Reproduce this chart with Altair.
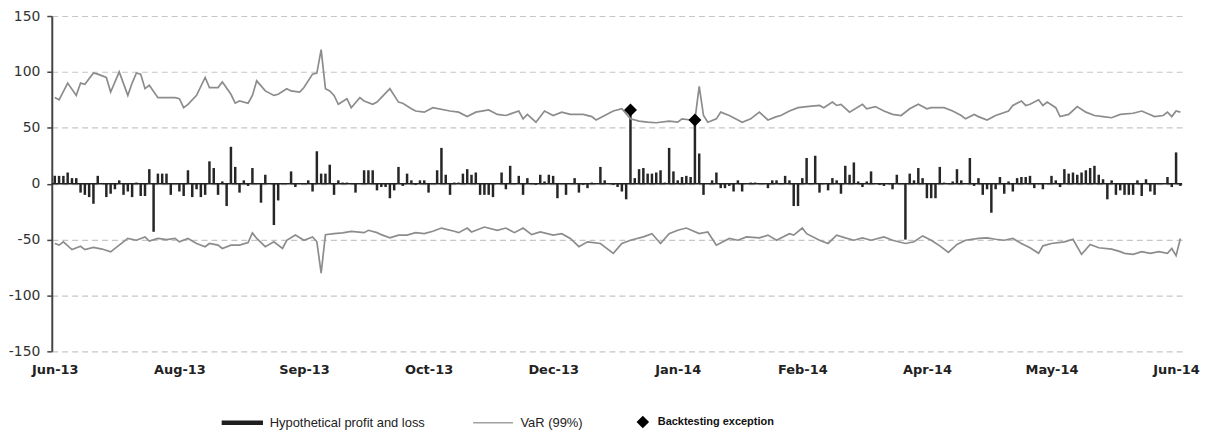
import json
import altair as alt
import pandas as pd

# ---------------- data ----------------
pnl = [
    7, 7, 7, 10, 5, 5, -8, -10, -12, -18, 7, 0.5, -12, -9, -5, 3, -10, -7, -12, 1, -11, -11, 13,
    -43,
    9, 9, 9, -10, 0.5, -7, -11, 12, -12, -5, -12, -10, 20, 14, -10, 2, -20,
    33,
    15, -8, 3, -2, 14, 0.5, -17, 8, 0.5, -37, -15, 0.5, 0.5, 11, -3, 0.5, 0.5, 3, -7,
    29,
    9, 9, 17, -10, 3, 1, 1, 0.5, -8, 0.5, 12, 12, 12, -6, -3, -3, -13, -6, 15, -2, 9, 3, -1, 3, 3,
    -8, 0.5, 12, 32, 8, -10, 1, 1, 9, 13, 8, 10, -10, -10, -10, -12, 0.5, 10, -5, 16,
    0.5, 7, -10, 5, 0.5, -1, 8, 2, 8, 7, -13, 0.5, -10, 0.5, 5, -8, -1, -4, 1, 0.5,
    15, 3, 0.5, -1, -3, -7, -14,
    66,
    5, 13, 14, 9, 9, 10, 12, 1, 32, 11, 3, 6, 7, 6,
    57,
    27, -10, 0.5, 3, 10, -4, -4, -2, -7, 3, -7, 0.5, 1, 1, 0.5, 0.5, -4, 3, 3, 0.5, 7, 3, -20, -20,
    5, 23, 0.5, 25, -8, 0.5, -6, 5, 3, -9, 16, 8, 19, 2, -3, 2, 11, 0.5, -1, -2, 0.5, -5, 8, 0.5,
    -50,
    9, 3, 14, 5, -13, -13, -13, 15, 1, 0.5, 2, 13, 3, 0.5, 23, -2, 5, -10, -5, -26,
    -5, 6, -9, 2, -7, 5, 6, 6, 7, -4, 0.5, -5, 0.5, 7, 3, -3,
    13, 9, 10, 8, 10, 12, 14, 16, 8, 4, -14, 3, -10, -6, -10, -10, -10, 3, -11, 4,
    -7, -10, 0.5, 0.5, 6, -3, 28, -2,
]
pnl_days = list(range(len(pnl)))

var_up_days = [0, 1, 3, 5, 6, 7, 9, 10, 12, 13, 15, 17, 18, 19, 20, 21, 22, 24, 26, 28, 29, 30, 31, 33, 35,
               36, 38, 39, 41, 42, 43, 45, 46, 47, 49, 51, 52, 54, 55, 57, 58, 60, 61, 62, 63, 64, 65, 66,
               68, 69, 71, 72, 74, 75, 76, 78, 80, 81, 83, 84, 86,
               88, 92, 94, 96, 98, 101, 103, 105, 108, 109, 110, 112, 114, 116, 118, 120, 123, 125, 126,
               128, 130, 132, 134, 136, 138, 140, 143, 145, 146, 148, 149, 150, 151, 152, 154, 155, 157,
               159, 160, 162, 164, 166, 168, 169, 171, 173,
               175, 178, 179, 181, 182, 183, 185, 188, 189, 191, 193, 195, 197, 199, 201, 203, 204, 207,
               209, 211, 212, 214, 215, 217, 219, 222, 223, 225, 226, 227, 229, 230, 231, 233, 234, 236,
               238, 240, 242, 244, 246, 248, 251, 253, 256, 258, 259, 260, 261, 262]
var_up = [77, 75, 90, 79, 90, 89, 99, 98, 95, 82, 100, 79, 90, 99, 98, 85, 88, 77, 77, 77, 76, 68, 71, 79, 95,
          86, 86, 91, 80, 72, 74, 72, 79, 92, 83, 79, 80, 85, 83, 82, 86, 98, 99, 120, 85, 83, 79, 71,
          76, 68, 77, 74, 71, 73, 77, 85, 73, 72, 67, 65, 64,
          68, 65, 64, 60, 64, 66, 62, 61, 65, 58, 62, 55, 65, 61, 64, 62, 62, 60, 57,
          61, 65, 67, 58, 56, 55, 54.5, 56, 55, 58, 57, 57, 87, 61, 55, 58, 64, 61,
          57, 55, 58, 64, 57, 60, 61, 65, 68,
          69, 70, 68, 73, 70, 71, 64, 71, 67, 69, 65, 62, 61, 67, 71, 67, 68, 68,
          65, 61, 58, 62, 60, 57, 61, 65, 70, 74, 70, 71, 75, 70, 73, 68, 60, 62,
          69, 64, 61, 60, 59, 62, 63, 65, 60, 61, 64, 60, 65, 64]

var_lo_days = [0, 1, 2, 4, 6, 7, 9, 11, 13, 15, 17, 19, 21, 22, 24, 26, 28, 29, 31, 33, 35, 36, 38, 39, 41,
               43, 45, 46, 47, 49, 51, 53, 54, 56, 58, 60, 61, 62, 63, 65, 67, 69, 72, 73, 75, 76, 78, 80,
               82, 84, 86,
               88, 90, 93, 94, 96, 97, 100, 103, 105, 107, 109, 111, 113, 116, 118, 120, 122, 124, 127,
               130, 132, 134, 137, 139, 141, 143, 145, 147, 150, 152, 154, 157, 159, 161, 164, 166, 168,
               171, 172, 174,
               175, 178, 180, 182, 184, 186, 188, 190, 193, 195, 198, 200, 202, 204, 206, 208, 210, 212,
               215, 217, 219, 221, 223, 225, 227, 229, 230, 232, 235, 237, 239, 241, 243, 246, 248, 249,
               251, 253, 255, 257, 259, 260, 261, 262]
var_lo = [-53.5, -55, -52, -59, -56, -59, -57, -58.5, -61, -55, -49, -50.6, -47.6, -51.4, -49, -50, -49, -52,
          -49, -53.5, -56.4, -53.5, -55, -58, -55,
          -55, -52.6, -44, -49, -56.4, -52, -58, -50.6, -46, -50.6, -47.6, -52, -80, -45.6, -44.7, -44,
          -42.6, -43.8, -41.7, -43.8, -45.6, -48.5, -46,
          -46, -43.8, -44.7,
          -42.6, -39.7, -42.6, -43.8, -39.7, -43.2, -38.8, -41.7, -39.7, -43.8, -39.7, -45.6, -43.2, -46,
          -44.7, -49, -56.4, -52, -53.5,
          -62.3, -53.5, -50.6, -47.6, -44.7, -53.5, -44.7, -41.7, -39.7, -44.7, -43.2, -55, -49, -50.6,
          -47.6, -48.5, -46, -50.6,
          -44.7, -46, -39.7,
          -44.7, -50.6, -53.5, -46, -48.5, -50.6, -48.5, -50.6, -47.6, -50.6, -53.5, -52, -46.7, -50.6,
          -55.6, -61.4, -54.4, -50.6,
          -49, -48.5, -49.7, -50.6, -49, -53.5, -57.3, -62.3, -55.6, -53.5, -52, -49.7, -63.2, -54.4,
          -57.3, -58.5, -60.8, -62.3,
          -63.2, -60.8, -62.3, -60.8, -62.3, -58, -64.4, -49]

exc_days = [134, 149]
exc_vals = [66, 57]

tick_days = [0, 29, 58, 87, 116, 145, 174, 203, 232, 261]
tick_labels = ["Jun-13", "Aug-13", "Sep-13", "Oct-13", "Dec-13", "Jan-14", "Feb-14", "Apr-14", "May-14", "Jun-14"]
y_ticks = [-150, -100, -50, 0, 50, 100, 150]

line_series = ["Hypothetical profit and loss", "VaR (99%)"]
point_series = ["Backtesting exception"]

# ---------------- tables ----------------
df_pnl = pd.DataFrame({"day": pnl_days, "value": pnl})
df_up = pd.DataFrame({"day": var_up_days, "value": var_up})
df_lo = pd.DataFrame({"day": var_lo_days, "value": var_lo})
df_exc = pd.DataFrame({"day": exc_days, "value": exc_vals})
df_zero = pd.DataFrame({"value": [0]})
df_leg_lines = pd.DataFrame({"series": line_series})
df_leg_pts = pd.DataFrame({"kind": point_series})

label_expr = f"{json.dumps(tick_labels)}[indexof({json.dumps(tick_days)}, datum.value)]"

x_scale = alt.Scale(domain=[-0.7, 262.4], nice=False, zero=False, padding=0)
y_scale = alt.Scale(domain=[-150, 150], nice=False, padding=0)

x_enc = alt.X(
    "day:Q",
    scale=x_scale,
    axis=alt.Axis(
        values=tick_days, labelExpr=label_expr, grid=False, domain=False, ticks=False,
        labelFlush=False,
        labelFont="DejaVu Sans", labelFontSize=13, labelFontWeight="bold", labelColor="#222",
        labelPadding=12, title=None,
    ),
)
y_enc = alt.Y(
    "value:Q",
    scale=y_scale,
    axis=alt.Axis(
        values=y_ticks, labelExpr="toString(datum.value)", grid=True, gridDash=[6, 4],
        gridColor="#c6c6c6", gridWidth=1.2,
        domainColor="#444", domainWidth=2, tickColor="#444", tickSize=5, tickWidth=1.5,
        labelFont="DejaVu Sans", labelFontSize=14, labelColor="#333", labelPadding=7, title=None,
    ),
)

bars = alt.Chart(df_pnl).mark_bar(size=2.5, color="#262626").encode(x=x_enc, y=y_enc)

zero = alt.Chart(df_zero).mark_rule(color="#222", strokeWidth=1.6).encode(y=alt.Y("value:Q", scale=y_scale))

up = alt.Chart(df_up).mark_line(color="#8c8c8c", strokeWidth=1.7).encode(
    x=alt.X("day:Q", scale=x_scale), y=alt.Y("value:Q", scale=y_scale)
)
lo = alt.Chart(df_lo).mark_line(color="#8c8c8c", strokeWidth=1.7).encode(
    x=alt.X("day:Q", scale=x_scale), y=alt.Y("value:Q", scale=y_scale)
)

exc = alt.Chart(df_exc).mark_point(shape="diamond", filled=True, color="#000", size=170, opacity=1).encode(
    x=alt.X("day:Q", scale=x_scale), y=alt.Y("value:Q", scale=y_scale)
)

# legend for the two line series (long line symbols; the P&L one is a thick bar)
legend_lines = alt.Legend(
    title=None, orient="none", legendX=170, legendY=402, direction="horizontal",
    labelFont="Liberation Sans", labelFontSize=13, labelColor="#222",
    symbolSize=100, symbolStrokeWidth=1.5, labelOffset=36, columnPadding=44, symbolOpacity=1,
)
leg_lines = alt.Chart(df_leg_lines).mark_point(filled=False, opacity=0, fill="#1e1e1e").encode(
    color=alt.Color("series:N", scale=alt.Scale(domain=line_series, range=["#1e1e1e", "#a0a0a0"]),
                    legend=legend_lines),
    shape=alt.Shape("series:N",
                    scale=alt.Scale(domain=line_series, range=["M-1,-0.3H7V0.3H-1Z", "M-1,0H7"]),
                    legend=legend_lines),
)

# legend for the exception marker
legend_pts = alt.Legend(
    title=None, orient="none", legendX=588, legendY=402, direction="horizontal",
    labelFont="Liberation Sans", labelFontSize=11, labelFontWeight="bold", labelColor="#111",
    symbolType="diamond", symbolSize=110, labelOffset=9, symbolOpacity=1,
    symbolFillColor="#000", symbolStrokeColor="#000",
)
leg_pts = alt.Chart(df_leg_pts).mark_point(filled=True, shape="diamond", opacity=0).encode(
    fill=alt.Fill("kind:N", scale=alt.Scale(domain=point_series, range=["#000000"]), legend=legend_pts),
)

chart = (
    alt.layer(bars, zero, up, lo, exc, leg_lines, leg_pts)
    .resolve_scale(color="independent", fill="independent", shape="independent")
    .resolve_legend(color="independent", fill="independent", shape="independent")
    .properties(width=1136, height=337, padding={"left": 0, "top": 0, "right": 0, "bottom": 0})
    .configure_view(stroke=None)
)

chart.save("out.html", embed_options={"renderer": "svg", "actions": False})
